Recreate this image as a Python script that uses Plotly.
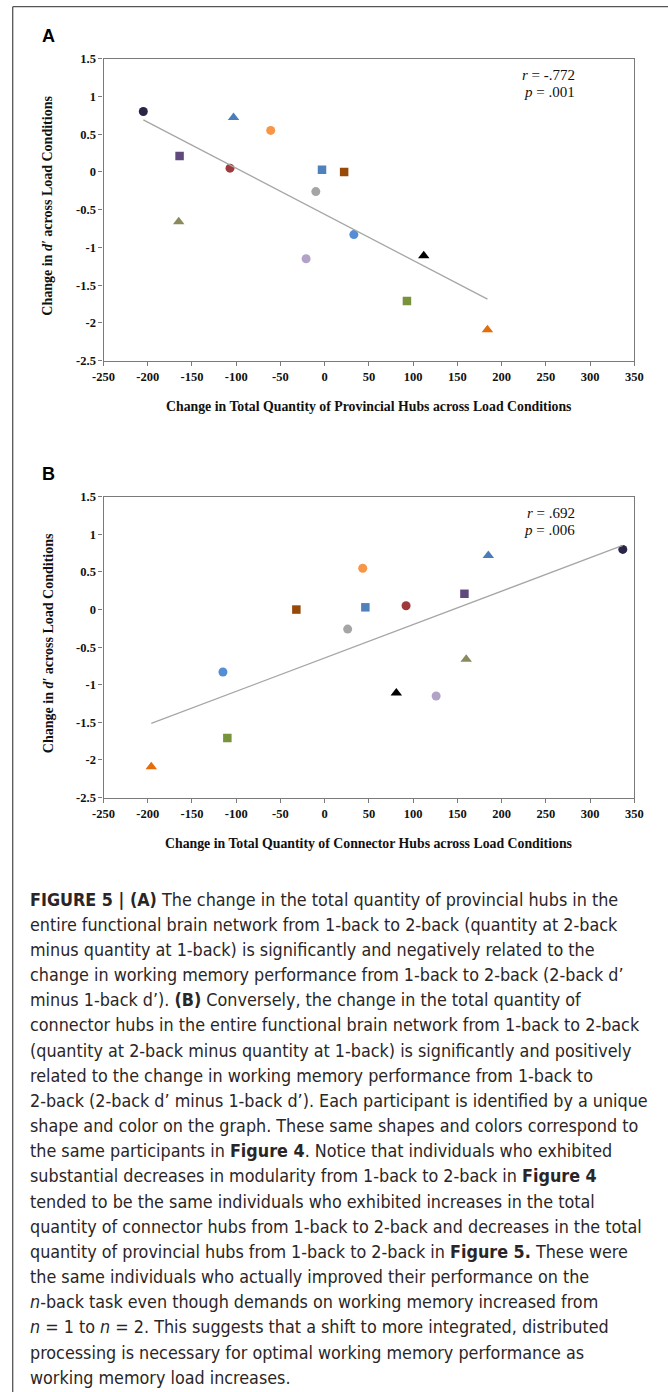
import numpy as np
import plotly.graph_objects as go

W, H = 668, 1392

# ---- data (one entry per participant) ----
participants = ["P1", "P2", "P3", "P4", "P5", "P6", "P7", "P8", "P9", "P10", "P11", "P12", "P13", "P14"]
d_prime_change = [0.80, 0.72, 0.55, 0.21, 0.05, 0.03, 0.00, -0.26, -0.66, -0.83, -1.15, -1.11, -1.71, -2.09]
provincial_change = [-205, -103, -61, -164, -107, -3, 22, -10, -165, 33, -21, 112, 93, 184]
connector_change = [337, 185, 43, 158, 92, 46, -32, 26, 160, -115, 126, 81, -110, -196]
marker_symbols = ["circle", "triangle-up", "circle", "square", "circle", "square", "square",
                  "circle", "triangle-up", "circle", "circle", "triangle-up", "square", "triangle-up"]
marker_colors = ["#2d2548", "#4a7ebb", "#f79646", "#604a7b", "#a0393b", "#4f81bd", "#984807",
                 "#a5a5a5", "#8b8a5c", "#558ed5", "#b3a2c7", "#000000", "#77933c", "#e46c0a"]

x_tick_vals = [-250, -200, -150, -100, -50, 0, 50, 100, 150, 200, 250, 300, 350]
x_tick_text = ["-250", "-200", "-150", "-100", "-50", "0", "50", "100", "150", "200", "250", "300", "350"]
y_tick_vals = [-2.5, -2, -1.5, -1, -0.5, 0, 0.5, 1, 1.5]
y_tick_text = ["-2.5", "-2", "-1.5", "-1", "-0.5", "0", "0.5", "1", "1.5"]

stats_a = ["<i>r</i> = -.772", "<i>p</i> = .001"]
stats_b = ["<i>r</i> = .692", "<i>p</i> = .006"]

caption_lines = [
    "<b>FIGURE 5 | (A)</b> The change in the total quantity of provincial hubs in the",
    "entire functional brain network from 1-back to 2-back (quantity at 2-back",
    "minus quantity at 1-back) is significantly and negatively related to the",
    "change in working memory performance from 1-back to 2-back (2-back d\u2019",
    "minus 1-back d\u2019). <b>(B)</b> Conversely, the change in the total quantity of",
    "connector hubs in the entire functional brain network from 1-back to 2-back",
    "(quantity at 2-back minus quantity at 1-back) is significantly and positively",
    "related to the change in working memory performance from 1-back to",
    "2-back (2-back d\u2019 minus 1-back d\u2019). Each participant is identified by a unique",
    "shape and color on the graph. These same shapes and colors correspond to",
    "the same participants in <b>Figure 4</b>. Notice that individuals who exhibited",
    "substantial decreases in modularity from 1-back to 2-back in <b>Figure 4</b>",
    "tended to be the same individuals who exhibited increases in the total",
    "quantity of connector hubs from 1-back to 2-back and decreases in the total",
    "quantity of provincial hubs from 1-back to 2-back in <b>Figure 5.</b> These were",
    "the same individuals who actually improved their performance on the",
    "<i>n</i>-back task even though demands on working memory increased from",
    "<i>n</i> = 1 to <i>n</i> = 2. This suggests that a shift to more integrated, distributed",
    "processing is necessary for optimal working memory performance as",
    "working memory load increases.",
]


def px(x):
    return x / W


def py(y):
    return 1 - y / H


SERIF = "Liberation Serif, Times New Roman, serif"
SANS = "Liberation Sans, Arial, sans-serif"
CAP_FONT = "DejaVu Sans Condensed, Liberation Sans Narrow, sans-serif"

fig = go.Figure()

panels = [
    ("x", "y", provincial_change, 58.7, 360.7, stats_a,
     "Change in Total Quantity of Provincial Hubs across Load Conditions", "A"),
    ("x2", "y2", connector_change, 496.8, 797.5, stats_b,
     "Change in Total Quantity of Connector Hubs across Load Conditions", "B"),
]

left_px, right_px = 103.5, 634.3
annotations = []
shapes = []

for i, (xa, ya, xs, top, bot, stats, xtitle, letter) in enumerate(panels):
    for j in range(len(participants)):
        sym = marker_symbols[j]
        fig.add_trace(go.Scatter(
            x=[xs[j]], y=[d_prime_change[j]], mode="markers",
            marker=dict(symbol=sym, color=marker_colors[j],
                        size=10 if sym == "triangle-up" else (9 if sym == "circle" else 8.5),
                        line=dict(width=0)),
            xaxis=xa, yaxis=ya, showlegend=False, name=participants[j]))
    # least-squares trendline
    xarr = np.array(xs, dtype=float)
    yarr = np.array(d_prime_change, dtype=float)
    slope, intercept = np.polyfit(xarr, yarr, 1)
    lx = np.array([xarr.min(), xarr.max()])
    fig.add_trace(go.Scatter(x=lx, y=slope * lx + intercept, mode="lines",
                             line=dict(color="#a6a6a6", width=1.3),
                             xaxis=xa, yaxis=ya, showlegend=False, hoverinfo="skip"))

    axis_common = dict(showline=True, linecolor="#7a7a7a", linewidth=1.2, mirror=True,
                       showgrid=False, zeroline=False, ticks="outside", ticklen=4,
                       tickcolor="#7a7a7a", tickwidth=1, automargin=False,
                       tickfont=dict(family=SERIF, size=12.5, color="#111111"))
    xkey = "xaxis" if xa == "x" else "xaxis2"
    ykey = "yaxis" if ya == "y" else "yaxis2"
    fig.update_layout(**{
        xkey: dict(axis_common, domain=[px(left_px), px(right_px)], range=[-250, 350],
                   tickvals=x_tick_vals, ticktext=["<b>%s</b>" % t for t in x_tick_text],
                   anchor=ya, fixedrange=True),
        ykey: dict(axis_common, domain=[py(bot), py(top)], range=[-2.5, 1.5],
                   tickvals=y_tick_vals, ticktext=["<b>%s</b>" % t for t in y_tick_text],
                   anchor=xa, fixedrange=True),
    })

    annotations.append(dict(x=px(577), y=py(top + 16.5), xref="paper", yref="paper",
                            text=stats[0], showarrow=False, xanchor="right", yanchor="middle",
                            font=dict(family=SERIF, size=15, color="#111111")))
    annotations.append(dict(x=px(577), y=py(top + 33.5), xref="paper", yref="paper",
                            text=stats[1], showarrow=False, xanchor="right", yanchor="middle",
                            font=dict(family=SERIF, size=15, color="#111111")))
    annotations.append(dict(x=px(369), y=py(bot + 45.5), xref="paper", yref="paper",
                            text="<b>%s</b>" % xtitle, showarrow=False,
                            xanchor="center", yanchor="middle",
                            font=dict(family=SERIF, size=13.8, color="#111111")))
    annotations.append(dict(x=px(48), y=py((top + bot) / 2 - 4), xref="paper", yref="paper",
                            text="<b>Change in <i>d\u2032</i> across Load Conditions</b>",
                            showarrow=False, textangle=-90, xanchor="center", yanchor="middle",
                            font=dict(family=SERIF, size=14, color="#111111")))
    annotations.append(dict(x=px(40), y=py(top - 22.5), xref="paper", yref="paper",
                            text="<b>%s</b>" % letter, showarrow=False,
                            xanchor="left", yanchor="middle",
                            font=dict(family=SANS, size=18, color="#000000")))

for k, line in enumerate(caption_lines):
    annotations.append(dict(x=px(28), y=py(899 + k * 25.17), xref="paper", yref="paper",
                            text=line, showarrow=False, xanchor="left", yanchor="middle",
                            font=dict(family=CAP_FONT, size=17.8, color="#2a2627")))

shapes.append(dict(type="line", xref="paper", yref="paper", x0=px(12.7), x1=1.0,
                   y0=py(6.7), y1=py(6.7), line=dict(color="#555555", width=1.3)))
shapes.append(dict(type="line", xref="paper", yref="paper", x0=px(12.7), x1=px(12.7),
                   y0=py(6.7), y1=0.0, line=dict(color="#555555", width=1.3)))

fig.update_layout(template="none", width=W, height=H, margin=dict(l=0, r=0, t=0, b=0),
                  paper_bgcolor="white", plot_bgcolor="white",
                  font=dict(family=SERIF, color="#111111"),
                  annotations=annotations, shapes=shapes, showlegend=False)

fig.write_html("out.html", config={"displayModeBar": False})
